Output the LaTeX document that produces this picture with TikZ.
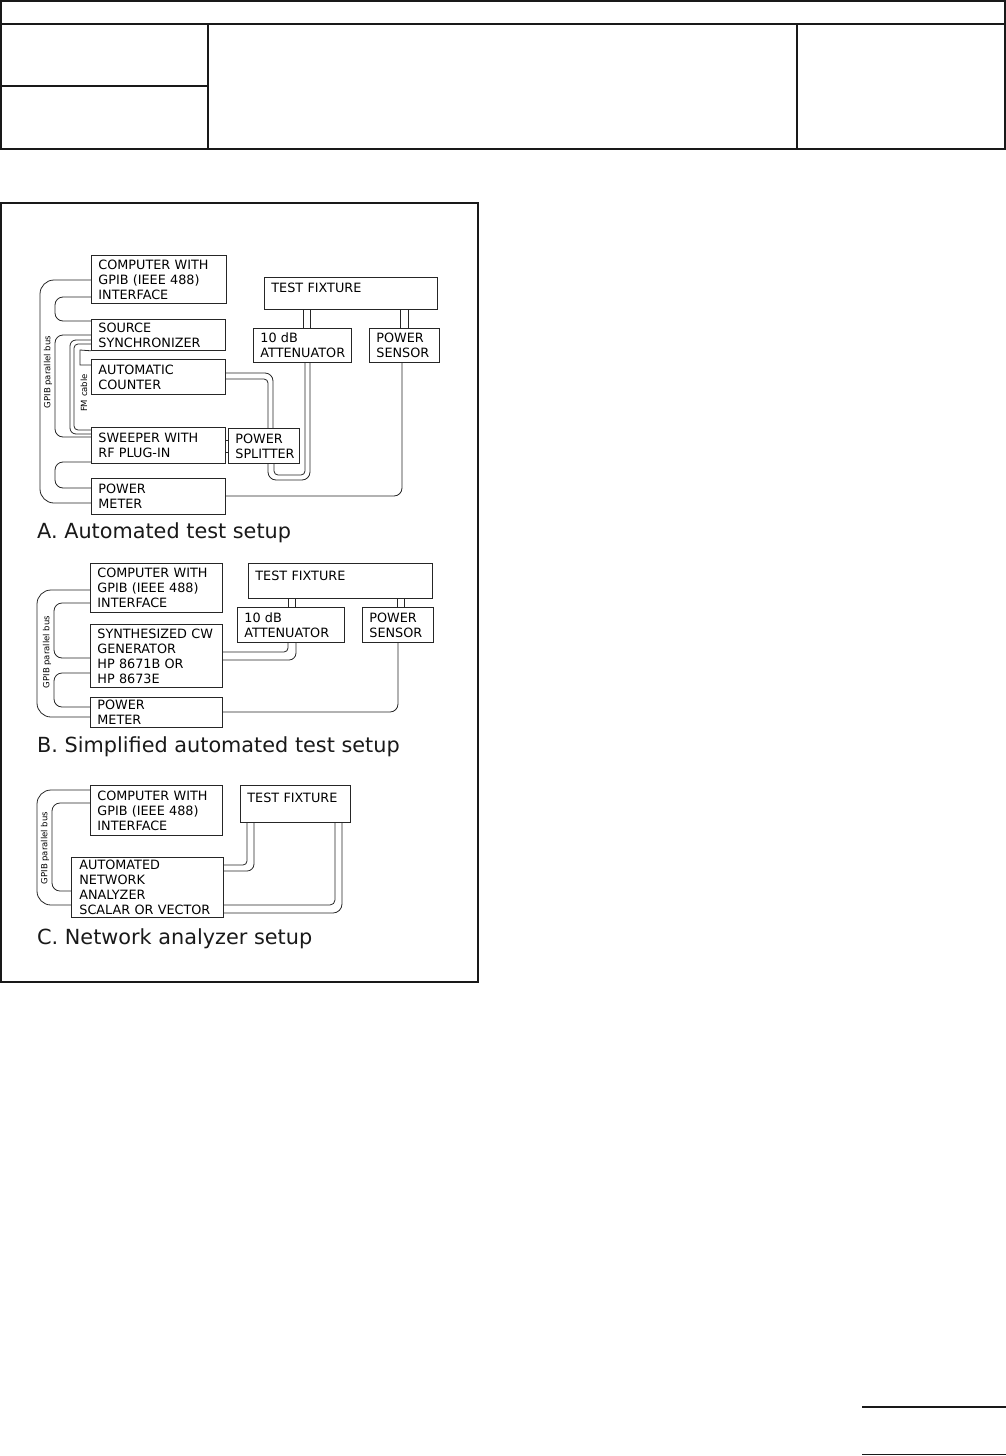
\documentclass[tikz,border=0pt]{standalone}
\usepackage{fontspec}
\setmainfont{DejaVu Sans}
\begin{document}
\begin{tikzpicture}[x=1pt,y=-1pt,
  box/.style={draw=black!85, line width=0.8pt, anchor=north west, inner xsep=7pt, inner ysep=0pt,
    align=left, font=\fontsize{12.8}{15}\selectfont, text=black},
  cable/.style={draw=black!85, line width=0.8pt, rounded corners=6pt},
  bus/.style={cable, rounded corners=14pt},
  rulel/.style={draw=black!90, line width=1.6pt},
  buslabel/.style={rotate=90, inner sep=0pt, font=\fontsize{8.5}{9}\selectfont, text=black},
  titletext/.style={anchor=base west, inner sep=0pt, font=\fontsize{20.8}{24}\selectfont, text=black!90}]
\useasboundingbox (0,0) rectangle (1006,1456);

% header table
\draw[rulel] (1,1) rectangle (1005,149);
\draw[rulel] (1,24) -- (1005,24);
\draw[rulel] (208,24) -- (208,149);
\draw[rulel] (797,24) -- (797,149);
\draw[rulel] (1,86) -- (208,86);
% bottom right rules
\draw[rulel] (862,1407) -- (1006,1407);
\draw[rulel] (862,1454.5) -- (1006,1454.5);
% figure frame
\draw[draw=black!90, line width=1.4pt] (1,203) rectangle (478,982);

% ---------------- A ----------------
\node[box, text width=121pt, minimum height=48pt] (compA) at (91,255) {COMPUTER WITH\\GPIB (IEEE 488)\\INTERFACE};
\node[box, text width=120pt, minimum height=31pt] (syncA) at (91,319) {SOURCE\\SYNCHRONIZER};
\node[box, text width=120pt, minimum height=35pt] (countA) at (91,359) {AUTOMATIC\\COUNTER};
\node[box, text width=120pt, minimum height=36pt] (sweepA) at (91,427) {SWEEPER WITH\\RF PLUG-IN};
\node[box, text width=120pt, minimum height=36pt] (pmA) at (91,478) {POWER\\METER};
\node[box, text width=57pt, minimum height=35pt] (splitA) at (228,428) {POWER\\SPLITTER};
\node[box, text width=159pt, text height=15pt, text depth=17pt] (fixA) at (264,277) {TEST FIXTURE};
\node[box, text width=84pt, minimum height=34pt] (attA) at (253,328) {10 dB\\ATTENUATOR};
\node[box, text width=56pt, minimum height=34pt] (sensA) at (369,328) {POWER\\SENSOR};

% GPIB bus A
\draw[bus] (compA.west |- 0,280) -- (40,280) -- (40,503) -- (pmA.west |- 0,503);
\draw[cable, rounded corners=8pt] (compA.west |- 0,297) -- (55,297) -- (55,321) -- (syncA.west |- 0,321);
\draw[cable, rounded corners=8pt] (syncA.west |- 0,335) -- (55,335) -- (55,437) -- (sweepA.west |- 0,437);
\draw[cable, rounded corners=8pt] (sweepA.west |- 0,462) -- (55,462) -- (55,488) -- (pmA.west |- 0,488);
\node[buslabel] (busA) at (48,372) {GPIB parallel bus};
% FM cable
\draw[cable] (syncA.west |- 0,340) -- (70,340) -- (70,434) -- (sweepA.west |- 0,434);
\draw[cable, rounded corners=4pt] (syncA.west |- 0,344) -- (74,344) -- (74,430) -- (sweepA.west |- 0,430);
\node[buslabel] (fmA) at (84,393) {FM cable};
\draw[cable, rounded corners=0pt] (syncA.south west) -- (80,350) -- (80,365) -- (countA.west |- 0,365);
% counter -> splitter
\draw[cable, rounded corners=8pt] (countA.east |- 0,373) -- (273,373) -- (273,0 |- splitA.north);
\draw[cable, rounded corners=4pt] (countA.east |- 0,379) -- (268,379) -- (268,0 |- splitA.north);
% sweeper -> splitter
\draw[cable, rounded corners=0pt] (sweepA.east |- 0,440) -- (splitA.west |- 0,440);
\draw[cable, rounded corners=0pt] (sweepA.east |- 0,452) -- (splitA.west |- 0,452);
% splitter -> attenuator
\draw[cable, rounded corners=8pt] (268,0 |- splitA.south) -- (268,480) -- (310,480) -- (310,0 |- attA.south);
\draw[cable, rounded corners=4pt] (274,0 |- splitA.south) -- (274,475) -- (305,475) -- (305,0 |- attA.south);
% attenuator / sensor -> fixture
\draw[cable] (303,0 |- fixA.south) -- (303,0 |- attA.north);
\draw[cable] (310,0 |- fixA.south) -- (310,0 |- attA.north);
\draw[cable] (400,0 |- fixA.south) -- (400,0 |- sensA.north);
\draw[cable] (408,0 |- fixA.south) -- (408,0 |- sensA.north);
% sensor -> power meter
\draw[cable, rounded corners=8pt] (402,0 |- sensA.south) -- (402,496) -- (pmA.east |- 0,496);
\node[titletext] (titleA) at (37,538) {A. Automated test setup};

% ---------------- B ----------------
\node[box, text width=118pt, minimum height=49pt] (compB) at (90,563) {COMPUTER WITH\\GPIB (IEEE 488)\\INTERFACE};
\node[box, text width=118pt, minimum height=63pt] (synB) at (90,624) {SYNTHESIZED CW\\GENERATOR\\HP 8671B OR\\HP 8673E};
\node[box, text width=118pt, minimum height=30pt] (pmB) at (90,697) {POWER\\METER};
\node[box, text width=170pt, text height=17pt, text depth=18pt] (fixB) at (248,563) {TEST FIXTURE};
\node[box, text width=93pt, minimum height=35pt] (attB) at (237,607) {10 dB\\ATTENUATOR};
\node[box, text width=57pt, minimum height=35pt] (sensB) at (362,607) {POWER\\SENSOR};

\draw[bus] (compB.west |- 0,590) -- (37,590) -- (37,717) -- (pmB.west |- 0,717);
\draw[cable, rounded corners=8pt] (compB.west |- 0,603) -- (54,603) -- (54,658) -- (synB.west |- 0,658);
\draw[cable, rounded corners=8pt] (synB.west |- 0,673) -- (54,673) -- (54,707) -- (pmB.west |- 0,707);
\node[buslabel] (busB) at (47,652) {GPIB parallel bus};
\draw[cable] (288,0 |- fixB.south) -- (288,0 |- attB.north);
\draw[cable] (295,0 |- fixB.south) -- (295,0 |- attB.north);
\draw[cable] (397,0 |- fixB.south) -- (397,0 |- sensB.north);
\draw[cable] (404,0 |- fixB.south) -- (404,0 |- sensB.north);
\draw[cable, rounded corners=4pt] (synB.east |- 0,652) -- (288,652) -- (288,0 |- attB.south);
\draw[cable, rounded corners=7pt] (synB.east |- 0,660) -- (296,660) -- (296,0 |- attB.south);
\draw[cable, rounded corners=8pt] (398,0 |- sensB.south) -- (398,712) -- (pmB.east |- 0,712);
\node[titletext] (titleB) at (37,752) {B. Simplified automated test setup};

% ---------------- C ----------------
\node[box, text width=118pt, minimum height=50pt] (compC) at (90,785) {COMPUTER WITH\\GPIB (IEEE 488)\\INTERFACE};
\node[box, text width=96pt, text height=17pt, text depth=20pt] (fixC) at (240,785) {TEST FIXTURE};
\node[box, inner xsep=8pt, text width=136pt, minimum height=60pt] (anaC) at (71,857) {AUTOMATED\\NETWORK\\ANALYZER\\SCALAR OR VECTOR};

\draw[bus] (compC.west |- 0,790) -- (37,790) -- (37,905) -- (anaC.west |- 0,905);
\draw[cable, rounded corners=8pt] (compC.west |- 0,803) -- (52,803) -- (52,891) -- (anaC.west |- 0,891);
\node[buslabel] (busC) at (45,848) {GPIB parallel bus};
\draw[cable, rounded corners=4pt] (anaC.east |- 0,865) -- (247,865) -- (247,0 |- fixC.south);
\draw[cable, rounded corners=7pt] (anaC.east |- 0,871) -- (254,871) -- (254,0 |- fixC.south);
\draw[cable, rounded corners=5pt] (anaC.east |- 0,905) -- (335,905) -- (335,0 |- fixC.south);
\draw[cable, rounded corners=9pt] (anaC.east |- 0,913) -- (342,913) -- (342,0 |- fixC.south);
\node[titletext] (titleC) at (37,944) {C. Network analyzer setup};
\end{tikzpicture}
\end{document}
